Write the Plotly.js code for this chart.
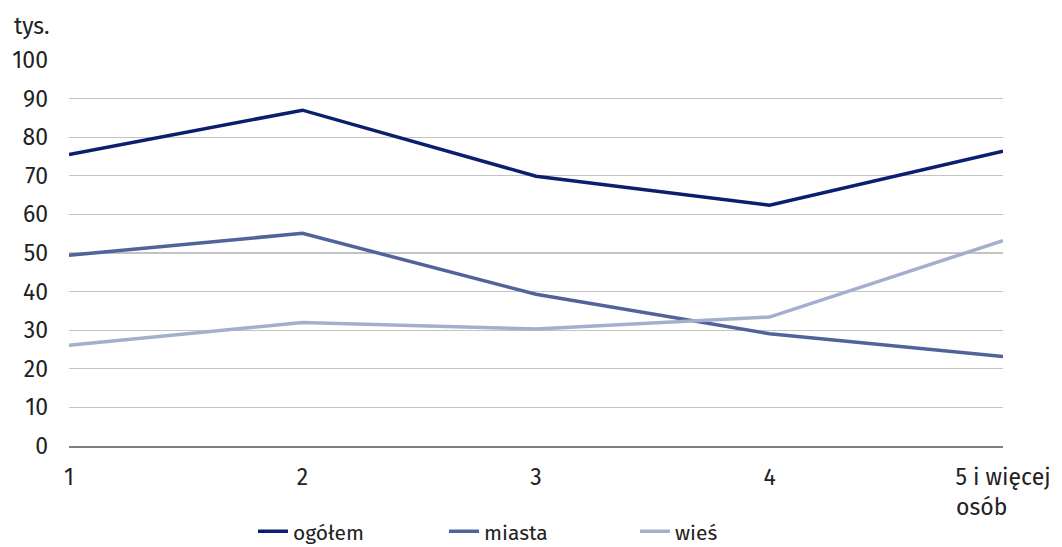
<!DOCTYPE html>
<html>
<head>
<meta charset="utf-8">
<script src="https://cdn.plot.ly/plotly-3.0.1.min.js"></script>
<style>html,body{margin:0;padding:0;background:#fff}#chart{width:1062px;height:547px}</style>
</head>
<body>
<div id="chart"></div>
<script>
const categories = ["1", "2", "3", "4", "5 i więcej<br>osób\u00a0\u00a0\u00a0\u00a0\u00a0\u00a0\u00a0"];
const ogolem = [75.5, 87.0, 69.9, 62.4, 76.4];
const miasta = [49.4, 55.1, 39.3, 29.1, 23.2];
const wies = [26.1, 32.0, 30.3, 33.4, 53.2];
const seriesNames = ["ogółem", "miasta", "wieś"];
const yTicks = [0, 10, 20, 30, 40, 50, 60, 70, 80, 90, 100];

const colors = ["#0b1f6e", "#52639b", "#a3afcc"];
const font = {family: "Fira Sans, Roboto, Noto Sans, sans-serif", size: 23, color: "#222"};

const traces = [ogolem, miasta, wies].map((vals, i) => ({
  x: categories, y: vals, type: "scatter", mode: "lines",
  name: seriesNames[i], line: {color: colors[i], width: 3.5}
}));

const layout = {
  width: 1062, height: 547,
  margin: {l: 69, r: 59, t: 60, b: 101, autoexpand: false},
  paper_bgcolor: "#fff", plot_bgcolor: "#fff",
  font: font,
  showlegend: true,
  legend: {orientation: "h", x: 0.197, xanchor: "left", y: -0.222, yanchor: "middle",
           font: {family: font.family, size: 21, color: "#222"}, entrywidth: 146, entrywidthmode: "pixels"},
  xaxis: {type: "category", range: [0, 4], showgrid: false, showline: true, linecolor: "#7f7f7f", linewidth: 1.5,
          ticks: "", tickfont: font, ticklabelstandoff: 10, fixedrange: true, zeroline: false},
  yaxis: {range: [0, 100], tickvals: yTicks, showgrid: true, gridcolor: "#c3c3c3", gridwidth: 1.2,
          zeroline: false, ticks: "", tickfont: font, ticklabelstandoff: 20, fixedrange: true},
  annotations: [{text: "tys.", xref: "paper", yref: "paper", x: -0.061, y: 1.087, xanchor: "left", yanchor: "middle",
                 showarrow: false, font: font}]
};

Plotly.newPlot("chart", traces, layout, {staticPlot: true});
</script>
</body>
</html>
